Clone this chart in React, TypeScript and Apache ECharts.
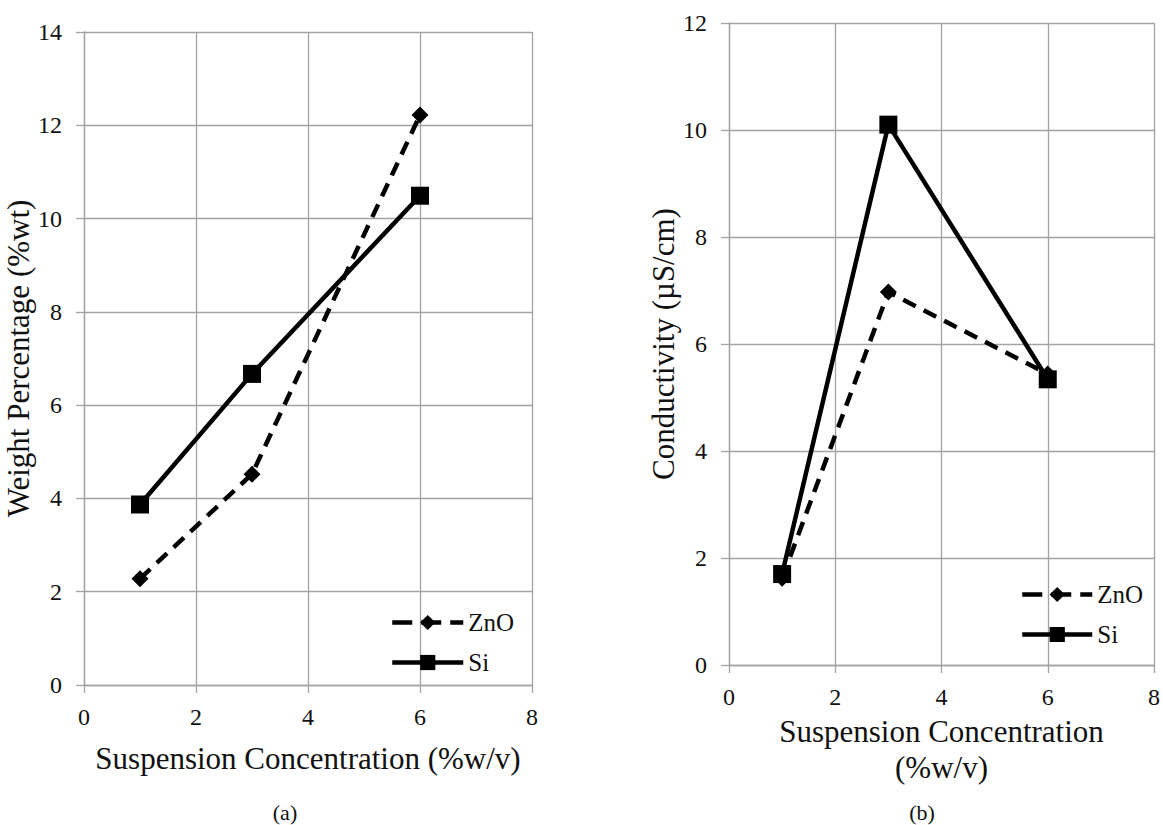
import React, { useEffect, useRef } from "react";
import * as echarts from "echarts";

const xTicksMax = 8;
const leftYMax = 14;
const rightYMax = 12;

const conc = [1, 3, 6];
const weightZnO = [2.28, 4.52, 12.22];
const weightSi = [3.87, 6.67, 10.49];
const condZnO = [1.62, 6.97, 5.44];
const condSi = [1.7, 10.1, 5.34];

const seriesNames = ["ZnO", "Si"];

const FONT = "Liberation Serif";
const GRID_COLOR = "#a3a3a3";
const TEXT_COLOR = "#111";

function pairs(xs: number[], ys: number[]) {
  return xs.map((x, i) => [x, ys[i]]);
}

export default function App() {
  const ref = useRef<HTMLDivElement>(null);
  useEffect(() => {
    document.body.style.margin = "0";
    const chart = echarts.init(ref.current!, null, { renderer: "svg" });
    const labelStyle = { color: TEXT_COLOR, fontFamily: FONT, fontSize: 24 };
    const nameStyle = { color: TEXT_COLOR, fontFamily: FONT, fontSize: 31 };
    const axisCommon = {
      type: "value" as const,
      interval: 2,
      axisLine: { show: true, lineStyle: { color: GRID_COLOR, width: 1.3 } },
      axisTick: { show: true, length: 8, lineStyle: { color: GRID_COLOR, width: 1.3 } },
      splitLine: { show: true, lineStyle: { color: GRID_COLOR, width: 1.3 } },
      nameLocation: "middle" as const,
    };
    const lineZnO = { color: "#000", width: 4.5, type: [14, 9] as any };
    const lineSi = { color: "#000", width: 4.5, type: "solid" as const };
    const legendData = [
      { name: seriesNames[0], lineStyle: { color: "#000", width: 4.5, type: [20, 9] as any }, itemStyle: { color: "#000" } },
      { name: seriesNames[1], lineStyle: { color: "#000", width: 4.5, type: "solid" }, itemStyle: { color: "#000" } },
    ];
    const legendText = { color: TEXT_COLOR, fontFamily: FONT, fontSize: 25, lineHeight: 25 };
    chart.setOption({
      animation: false,
      backgroundColor: "#fff",
      textStyle: { fontFamily: FONT },
      grid: [
        { left: 84, top: 32, width: 448, height: 653 },
        { left: 729, top: 23, width: 426, height: 642 },
      ],
      xAxis: [
        {
          ...axisCommon,
          gridIndex: 0,
          min: 0,
          max: xTicksMax,
          name: "Suspension Concentration (%w/v)",
          nameGap: 58,
          nameTextStyle: nameStyle,
          axisLabel: { ...labelStyle, margin: 20 },
        },
        {
          ...axisCommon,
          gridIndex: 1,
          min: 0,
          max: xTicksMax,
          name: "Suspension Concentration\n(%w/v)",
          nameGap: 39,
          nameTextStyle: { ...nameStyle, lineHeight: 36 },
          axisLabel: { ...labelStyle, margin: 20 },
        },
      ],
      yAxis: [
        {
          ...axisCommon,
          gridIndex: 0,
          min: 0,
          max: leftYMax,
          name: "Weight Percentage (%wt)",
          nameGap: 43,
          nameTextStyle: nameStyle,
          axisLabel: { ...labelStyle, margin: 22 },
        },
        {
          ...axisCommon,
          gridIndex: 1,
          min: 0,
          max: rightYMax,
          name: "Conductivity (µS/cm)",
          nameGap: 48,
          nameTextStyle: nameStyle,
          axisLabel: { ...labelStyle, margin: 22 },
        },
      ],
      legend: [
        {
          data: legendData,
          orient: "vertical",
          left: 390,
          top: 610,
          padding: 0,
          itemWidth: 71,
          itemHeight: 19,
          itemGap: 15,
          selectedMode: false,
          textStyle: legendText,
        },
        {
          data: legendData,
          orient: "vertical",
          left: 1020,
          top: 582,
          padding: 0,
          itemWidth: 70,
          itemHeight: 19,
          itemGap: 15,
          selectedMode: false,
          textStyle: legendText,
        },
      ],
      series: [
        {
          name: seriesNames[0],
          type: "line",
          xAxisIndex: 0,
          yAxisIndex: 0,
          data: pairs(conc, weightZnO),
          symbol: "diamond",
          symbolSize: 17,
          itemStyle: { color: "#000" },
          lineStyle: lineZnO,
        },
        {
          name: seriesNames[1],
          type: "line",
          xAxisIndex: 0,
          yAxisIndex: 0,
          data: pairs(conc, weightSi),
          symbol: "rect",
          symbolSize: 18,
          itemStyle: { color: "#000" },
          lineStyle: lineSi,
        },
        {
          name: seriesNames[0],
          type: "line",
          xAxisIndex: 1,
          yAxisIndex: 1,
          data: pairs(conc, condZnO),
          symbol: "diamond",
          symbolSize: 17,
          itemStyle: { color: "#000" },
          lineStyle: lineZnO,
        },
        {
          name: seriesNames[1],
          type: "line",
          xAxisIndex: 1,
          yAxisIndex: 1,
          data: pairs(conc, condSi),
          symbol: "rect",
          symbolSize: 18,
          itemStyle: { color: "#000" },
          lineStyle: lineSi,
        },
      ],
      graphic: [
        {
          type: "text",
          x: 285,
          y: 812,
          style: { text: "(a)", fill: TEXT_COLOR, fontFamily: FONT, fontSize: 22, align: "center", verticalAlign: "middle" },
        },
        {
          type: "text",
          x: 922,
          y: 812,
          style: { text: "(b)", fill: TEXT_COLOR, fontFamily: FONT, fontSize: 22, align: "center", verticalAlign: "middle" },
        },
      ],
    });
    return () => chart.dispose();
  }, []);
  return (
    <div
      ref={ref}
      style={{ position: "absolute", left: 0, top: 0, width: 1163, height: 825, background: "#fff" }}
    />
  );
}
